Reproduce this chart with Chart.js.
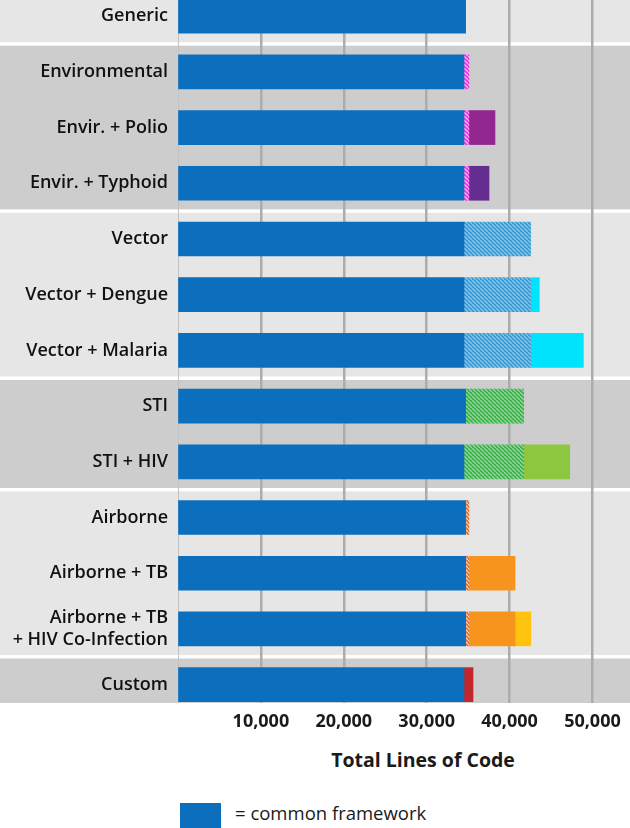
<!DOCTYPE html>
<html>
<head>
<meta charset="utf-8">
<script src="https://cdn.jsdelivr.net/npm/chart.js@4.4.0/dist/chart.umd.min.js"></script>
<style>
  body { margin: 0; background: #fff; font-family: 'Open Sans', sans-serif; }
  #wrap { position: relative; width: 630px; height: 828px; overflow: hidden; }
  #chartBox { position: absolute; left: 0; top: 0; width: 630px; height: 740px; }
  #axisTitle { position: absolute; left: 423px; top: 747px; transform: translateX(-50%);
    font-size: 19.5px; font-weight: bold; color: #1a1a1a; line-height: 26px; white-space: nowrap; }
  #legendBox { position: absolute; left: 180px; top: 803px; width: 41px; height: 30px; background: #0b6fbe; }
  #legendText { position: absolute; left: 235px; top: 800px; font-size: 18.5px; color: #1a1a1a; line-height: 26px; white-space: nowrap; }
</style>
</head>
<body>
<div id="wrap">
  <div id="chartBox"><canvas id="locChart"></canvas></div>
  <div id="axisTitle">Total Lines of Code</div>
  <div id="legendBox"></div>
  <div id="legendText">= common framework</div>
</div>
<script>
const categories = [
  'Generic', 'Environmental', 'Envir. + Polio', 'Envir. + Typhoid',
  'Vector', 'Vector + Dengue', 'Vector + Malaria',
  'STI', 'STI + HIV',
  'Airborne', 'Airborne + TB', ['Airborne + TB', '+ HIV Co-Infection'],
  'Custom'
];
// which disease family each row belongs to (for the shaded bands)
const familyOf = [0, 1, 1, 1, 2, 2, 2, 3, 3, 4, 4, 4, 5];
const xTicks = [0, 10000, 20000, 30000, 40000, 50000];

const commonLines    = [34700, 34500, 34500, 34500, 34500, 34500, 34500, 34700, 34500, 34700, 34700, 34700, 34500];
const familyLines    = [null, 600, 600, 600, 8050, 8050, 8050, 7000, 7200, 400, 400, 400, null];
const diseaseLines   = [null, null, 3140, 2420, null, 1040, 6350, null, 5560, null, 5560, 5560, 1090];
const coinfectLines  = [null, null, null, null, null, null, null, null, null, null, null, 1900, null];

// hatched fill for the family-level code
function makeHatch(base, stripe) {
  const n = 4;
  const c = document.createElement('canvas');
  c.width = n; c.height = n;
  const g = c.getContext('2d');
  g.fillStyle = base;
  g.fillRect(0, 0, n, n);
  g.strokeStyle = stripe;
  g.lineWidth = 1.3;
  for (const k of [-n, 0, n]) {
    g.beginPath();
    g.moveTo(k, 0);
    g.lineTo(k + n, n);
    g.stroke();
  }
  return g.createPattern(c, 'repeat');
}

const familyFill = {
  1: makeHatch('#e52fe0', '#ffb0f5'),
  2: makeHatch('#3597d3', '#86c7ec'),
  3: makeHatch('#38b04a', '#93d99a'),
  4: makeHatch('#de6a30', '#f5cdb5')
};
const diseaseColors = [null, null, '#92278f', '#662d91', null, '#00e3fc', '#00e3fc', null, '#8dc63f', null, '#f7941d', '#f7941d', '#c1272d'];
const coinfectColors = '#ffc20e';

const toPoints = arr => arr.map((v, i) => ({ x: v, y: i }));

const bandPlugin = {
  id: 'bands',
  beforeDraw(chart) {
    const { ctx, chartArea, scales: { y } } = chart;
    ctx.save();
    let start = 0;
    for (let i = 0; i < familyOf.length; i++) {
      if (i === familyOf.length - 1 || familyOf[i + 1] !== familyOf[i]) {
        let top = Math.max(y.getPixelForValue(start - 0.5) + 1.7, chartArea.top);
        let bottom = Math.min(y.getPixelForValue(i + 0.5) - 1.7, chartArea.bottom);
        ctx.fillStyle = familyOf[i] % 2 ? '#cdcdcd' : '#e6e6e6';
        ctx.fillRect(0, top, chart.width, bottom - top);
        start = i + 1;
      }
    }
    ctx.restore();
  }
};

const labelFont = { family: 'Open Sans', size: 18, weight: '600' };

function noPadding(s) {
  s.paddingTop = 0; s.paddingBottom = 0;
  s.paddingLeft = 0; s.paddingRight = 0;
}

new Chart(document.getElementById('locChart'), {
  type: 'bar',
  data: {
    datasets: [
      { label: 'common framework', data: toPoints(commonLines), backgroundColor: '#0b6fbe' },
      { label: 'family', data: toPoints(familyLines), backgroundColor: familyOf.map(f => familyFill[f] || 'rgba(0,0,0,0)') },
      { label: 'disease', data: toPoints(diseaseLines), backgroundColor: diseaseColors.map(c => c || 'rgba(0,0,0,0)') },
      { label: 'co-infection', data: toPoints(coinfectLines), backgroundColor: coinfectColors }
    ]
  },
  options: {
    indexAxis: 'y',
    responsive: true,
    maintainAspectRatio: false,
    animation: false,
    layout: { padding: 0 },
    datasets: { bar: { barThickness: 34, borderWidth: 0 } },
    plugins: { legend: { display: false }, tooltip: { enabled: false } },
    scales: {
      x: {
        type: 'linear', stacked: true, min: 0, max: 54530, position: 'bottom', offset: false,
        afterBuildTicks: s => { s.ticks = xTicks.map(v => ({ value: v })); },
        ticks: {
          padding: 8, color: '#1a1a1a',
          font: { family: 'Open Sans', size: 18, weight: 'bold' },
          callback: v => v === 0 ? '' : v.toLocaleString('en-US')
        },
        grid: {
          drawTicks: false,
          color: c => c.tick && c.tick.value === 0 ? '#c2c2c2' : '#acacac',
          lineWidth: c => c.tick && c.tick.value === 0 ? 1 : 2.5
        },
        border: { display: false },
        afterFit: s => { s.height = 37; noPadding(s); }
      },
      y: {
        type: 'linear', stacked: true, reverse: true, min: -0.29, max: 12.33, offset: false,
        afterBuildTicks: s => { s.ticks = categories.map((c, i) => ({ value: i })); },
        ticks: { autoSkip: false, padding: 10, color: '#111', font: labelFont, callback: v => categories[v] },
        grid: { display: false, drawTicks: false },
        border: { display: false },
        afterFit: s => { s.width = 178; noPadding(s); }
      }
    }
  },
  plugins: [bandPlugin]
});
</script>
</body>
</html>
